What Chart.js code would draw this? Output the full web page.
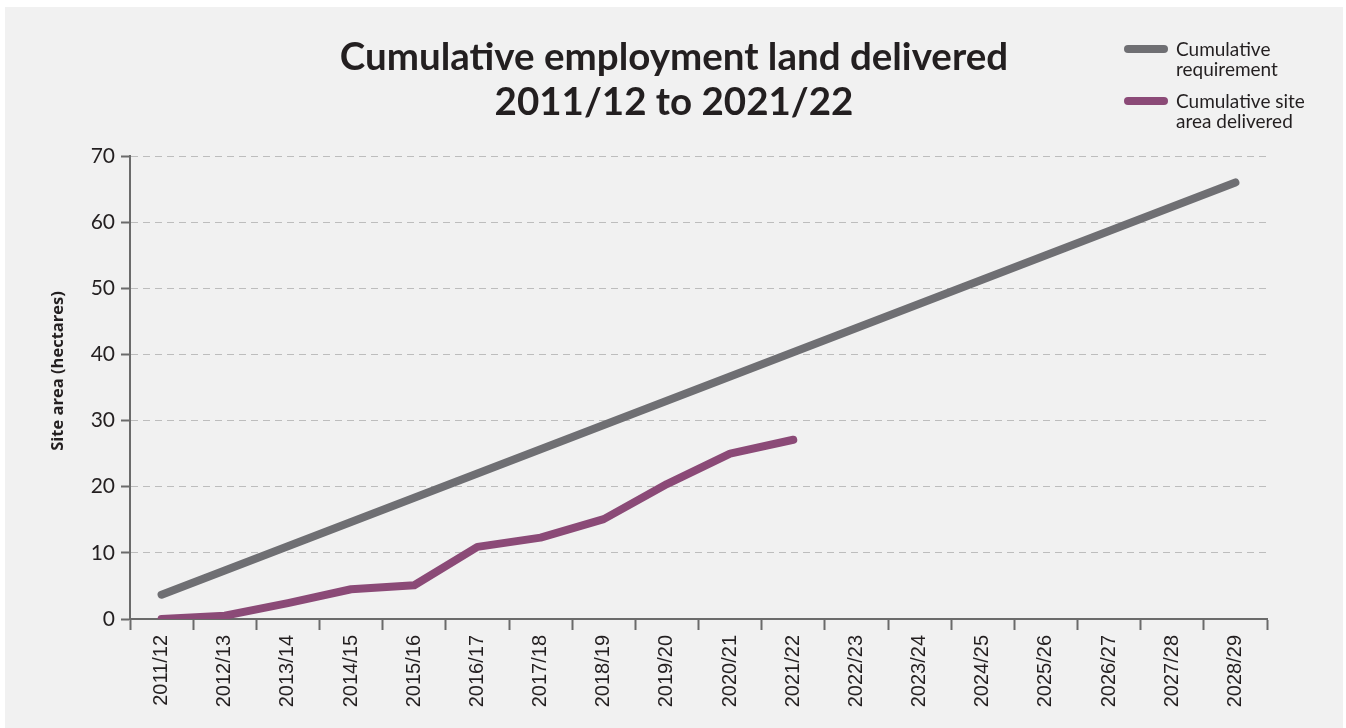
<!DOCTYPE html>
<html>
<head>
<meta charset="utf-8">
<script src="https://cdn.jsdelivr.net/npm/chart.js@4"></script>
<style>
  html, body { margin: 0; padding: 0; background: #ffffff; }
  #panel { position: absolute; left: 5px; top: 7px; width: 1338px; height: 721px; background: #f1f1f1; }
  canvas { display: block; }
</style>
</head>
<body>
<div id="panel"><canvas id="chart" width="1338" height="721"></canvas></div>
<script>
const years = ['2011/12', '2012/13', '2013/14', '2014/15', '2015/16', '2016/17', '2017/18', '2018/19', '2019/20',
    '2020/21', '2021/22', '2022/23', '2023/24', '2024/25', '2025/26', '2026/27', '2027/28', '2028/29'];
const requirement = [3.67, 7.33, 11, 14.67, 18.33, 22, 25.67, 29.33, 33, 36.67, 40.33, 44, 47.67, 51.33, 55, 58.67, 62.33, 66];
const delivered = [0, 0.5, 2.4, 4.5, 5.1, 10.9, 12.3, 15.1, 20.4, 25.0, 27.1];
const seriesLabels = ['Cumulative\nrequirement', 'Cumulative site\narea delivered'];
const titleLines = ['Cumulative employment land delivered', '2011/12 to 2021/22'];
const yTitle = 'Site area (hectares)';

const grey = '#6f6f73';
const purple = '#8b4a77';
const axisColor = '#6b6b6b';
const textColor = '#231f20';

// legend drawn top right, labels wrap on two lines
const sideLegend = {
    id: 'sideLegend',
    afterDraw(chart) {
        const ctx = chart.ctx;
        ctx.save();
        chart.data.datasets.forEach((ds, i) => {
            const y = 42 + i * 52;
            ctx.strokeStyle = ds.borderColor;
            ctx.lineWidth = 8;
            ctx.lineCap = 'round';
            ctx.beginPath();
            ctx.moveTo(1123, y);
            ctx.lineTo(1159, y);
            ctx.stroke();
            ctx.fillStyle = textColor;
            ctx.font = '19px Lato';
            ctx.textBaseline = 'middle';
            ds.label.split('\n').forEach((line, j) => {
                ctx.fillText(line, 1171, y + 1 + j * 20);
            });
        });
        ctx.restore();
    }
};

// y axis title sits a little above the middle of the axis
const yAxisTitle = {
    id: 'yAxisTitle',
    afterDraw(chart) {
        const ctx = chart.ctx;
        ctx.save();
        ctx.translate(53, 364);
        ctx.rotate(-Math.PI / 2);
        ctx.fillStyle = textColor;
        ctx.font = 'bold 16.5px "Open Sans"';
        ctx.textAlign = 'center';
        ctx.textBaseline = 'middle';
        ctx.fillText(yTitle, 0, 0);
        ctx.restore();
    }
};

new Chart(document.getElementById('chart'), {
    type: 'line',
    data: {
        labels: years,
        datasets: [
            {
                label: seriesLabels[0],
                data: requirement,
                borderColor: grey,
                borderWidth: 8,
                borderCapStyle: 'round',
                pointRadius: 0,
                tension: 0
            },
            {
                label: seriesLabels[1],
                data: delivered,
                borderColor: purple,
                borderWidth: 8,
                borderCapStyle: 'round',
                borderJoinStyle: 'round',
                pointRadius: 0,
                tension: 0
            }
        ]
    },
    options: {
        responsive: false,
        animation: false,
        layout: { padding: 0 },
        plugins: {
            legend: { display: false },
            tooltip: { enabled: false },
            title: {
                display: true,
                text: titleLines,
                color: textColor,
                font: { family: 'Lato', size: 38.5, weight: 'bold', lineHeight: '45px' },
                padding: { top: 28, bottom: 31 }
            }
        },
        scales: {
            x: {
                offset: true,
                grid: {
                    offset: true,
                    drawOnChartArea: false,
                    drawTicks: true,
                    tickLength: 11,
                    tickColor: axisColor,
                    tickWidth: 2
                },
                border: { display: true, color: axisColor, width: 2 },
                ticks: {
                    color: textColor,
                    minRotation: 90,
                    maxRotation: 90,
                    autoSkip: false,
                    padding: 5,
                    font: { family: 'Liberation Sans', size: 20 }
                },
                afterFit(scale) { scale.height = 109; }
            },
            y: {
                min: 0,
                max: 70,
                ticks: {
                    stepSize: 10,
                    color: textColor,
                    padding: 6,
                    font: { family: 'Lato', size: 21 }
                },
                grid: {
                    color: '#bdbdbd',
                    lineWidth: 1,
                    drawTicks: true,
                    tickLength: 9,
                    tickColor: axisColor,
                    tickWidth: 2
                },
                border: { display: true, color: axisColor, width: 2, dash: [7, 5] },
                afterFit(scale) { scale.width = 125; }
            },
            // empty right-hand axis keeps room on the right without shifting the title
            yRight: {
                position: 'right',
                min: 0,
                max: 70,
                grid: { display: false },
                border: { display: false },
                ticks: { display: false },
                afterFit(scale) { scale.width = 76; }
            }
        }
    },
    plugins: [sideLegend, yAxisTitle]
});
</script>
</body>
</html>
